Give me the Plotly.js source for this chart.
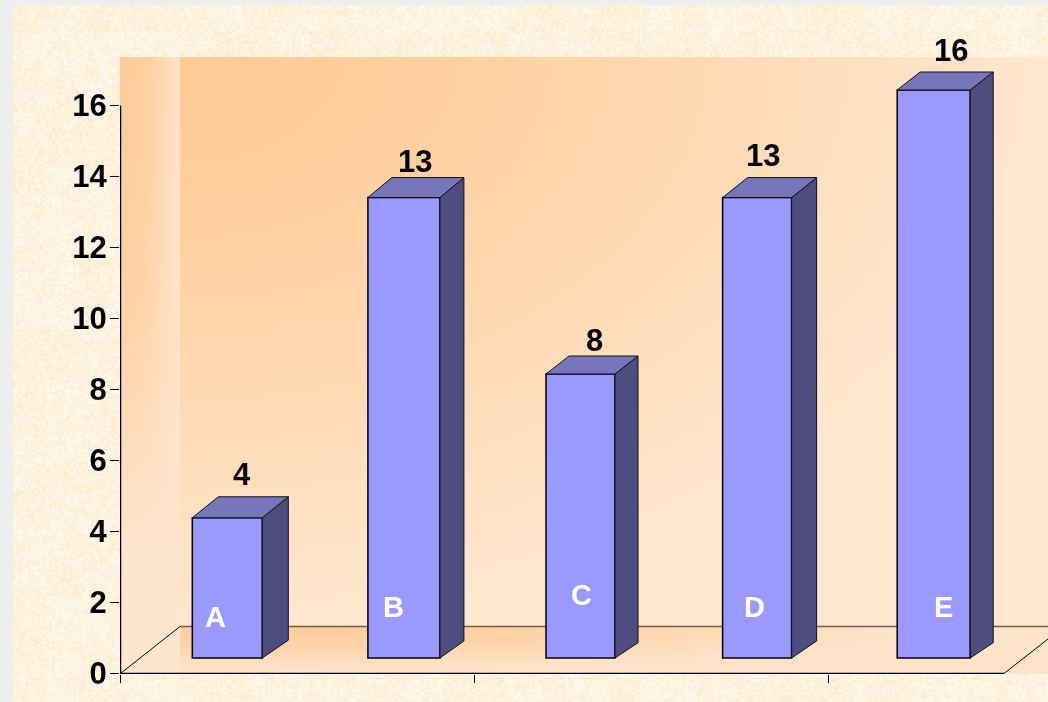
<!DOCTYPE html>
<html>
<head>
<meta charset="utf-8">
<script src="https://cdn.plot.ly/plotly-3.0.1.min.js"></script>
<style>
html,body{margin:0;padding:0;width:1048px;height:702px;overflow:hidden;background:#eeeeee}
.abs{position:absolute}
#tex{left:13px;top:5px}
#wall{left:180px;top:57px;width:868px;height:570px;
  background:radial-gradient(ellipse 860px 560px at 0px 0px,#ffca96 0%,#ffcf9f 30%,#ffdcb9 68%,#ffe6ce 100%)}
#side{left:120px;top:57px;width:60px;height:617px;
  background:linear-gradient(to bottom,rgba(254,229,205,0) 0%,rgba(254,229,205,.25) 40%,rgba(254,229,205,1) 80%),
  linear-gradient(to right,#ffca96 0%,#ffcf9f 45%,#ffe3ca 100%)}
#floor{left:180px;top:626px;width:868px;height:48px;
  background:radial-gradient(ellipse 620px 44px at 120px 0px,#ffca96 0%,#ffd3a9 45%,#fee3ca 100%);background-color:#fee5cd}
#plot{left:0;top:0;width:1048px;height:702px}
</style>
</head>
<body>
<canvas id="tex" class="abs" width="1035" height="697"></canvas>
<div id="wall" class="abs"></div>
<div id="side" class="abs"></div>
<div id="floor" class="abs"></div>
<div id="plot" class="abs"></div>
<script>
// ---- chart data ----
const categories = ['A', 'B', 'C', 'D', 'E'];
const values = [3.95, 12.97, 8, 12.97, 16];
const valueLabels = ['4', '13', '8', '13', '16'];
const yTicks = [0, 2, 4, 6, 8, 10, 12, 14, 16];

// ---- paper texture (decoration only) ----
(function () {
  const c = document.getElementById('tex').getContext('2d');
  const hash = (a, b) => { let h = (a * 374761393 + b * 668265263) | 0; h = Math.imul(h ^ (h >>> 13), 1274126177); return ((h ^ (h >>> 16)) >>> 0) / 4294967296; };
  const cell = 3;
  for (let j = 0; j * cell < 697; j++) for (let i = 0; i * cell < 1035; i++) {
    const blot = hash(Math.floor(i / 11), Math.floor(j / 9)) * .55 + hash(Math.floor(i / 4) + 91, Math.floor(j / 4) + 17) * .45;
    const n = hash(i + 7, j + 3);
    const t = blot * .4 + n * .6;
    const r = 250 + t * 6, g = 236 + t * 14, b = 206 + t * 34;
    c.fillStyle = `rgb(${r | 0},${g | 0},${b | 0})`;
    c.fillRect(i * cell, j * cell, cell, cell);
  }
})();

// ---- scales of the pseudo-3D scene ----
const pxPerCat = 176.6, pxFirst = 227.3, pxLeft = 120.5, pxRight = 1048;
const pxPerUnit = 35.5;
const X = p => (p - pxFirst) / pxPerCat;
const xs = categories.map((_, i) => i);
const baseY = 15.5 / pxPerUnit;
const wallX = X(180), floorBackY = 47 / pxPerUnit;
const barWidthsPx = [70, 72, 69, 69, 73];
const depthXPx = [26, 24, 23, 25, 23];
const depthYPx = [21, 20, 18, 20, 18];
const labelDx = [15, 11, 13.5, 5.5, 17.5];
const labelDy = [43, 36.5, 34, 42.5, 40];
const catDx = [-12, -10, 0.5, -3, 9.5];
const catY = [617, 607, 595, 607, 607];

const traces = [{
  type: 'bar', x: xs, y: values, base: baseY,
  width: barWidthsPx.map(w => w / pxPerCat),
  marker: { color: '#9999ff', line: { color: '#000', width: 1.5 } },
  hoverinfo: 'x+y', showlegend: false
}];
xs.forEach((x, i) => {
  const r = x + barWidthsPx[i] / 2 / pxPerCat, l = x - barWidthsPx[i] / 2 / pxPerCat;
  const dx = depthXPx[i] / pxPerCat, dy = depthYPx[i] / pxPerUnit;
  const top = values[i] + baseY;
  traces.push({
    type: 'scatter', mode: 'lines', fill: 'toself', fillcolor: '#4d4d80', hoverinfo: 'skip', showlegend: false,
    line: { color: '#111', width: 1 },
    x: [r, r + dx, r + dx, r, r], y: [baseY, baseY + dy * .85, top + dy, top, baseY]
  });
  traces.push({
    type: 'scatter', mode: 'lines', fill: 'toself', fillcolor: '#7676bb', hoverinfo: 'skip', showlegend: false,
    line: { color: '#111', width: 1 },
    x: [l, r, r + dx, l + dx, l], y: [top, top, top + dy, top + dy, top]
  });
});

const font = { family: '"Liberation Sans", Arial, sans-serif', size: 31, color: '#000' };
const labelAnn = xs.map((x, i) => ({
  x, y: values[i] + baseY, xref: 'x', yref: 'y', text: '<b>' + valueLabels[i] + '</b>', showarrow: false,
  xanchor: 'center', yanchor: 'middle', xshift: labelDx[i], yshift: labelDy[i], font
}));
const catAnn = xs.map((x, i) => ({
  x, y: (673.5 - catY[i]) / pxPerUnit, xref: 'x', yref: 'y', text: '<b>' + categories[i] + '</b>', showarrow: false,
  xanchor: 'center', yanchor: 'middle', xshift: catDx[i], font: { family: font.family, size: 29, color: '#fff' }
}));

const frontEnd = X(1004);
const line = (x0, y0, x1, y1, color, width) => ({ type: 'line', layer: 'below', xref: 'x', yref: 'y', x0, y0, x1, y1, line: { color, width } });
const rightX = X(pxRight);
const shapes = [
  line(wallX, floorBackY, rightX, floorBackY, '#6e5f50', 1.5),
  line(X(pxLeft), 0, wallX, floorBackY, '#000', 1),
  line(frontEnd, 0, rightX, (pxRight - 1004) / 60 * floorBackY, '#000', 1),
  line(X(pxLeft), 0, frontEnd, 0, '#000', 1.5),
  line(X(pxLeft), 0, X(pxLeft), 16, '#000', 1.5)
];

Plotly.newPlot('plot', traces, {
  width: 1048, height: 702,
  margin: { l: 120, r: 0, t: 57, b: 28, pad: 0 },
  paper_bgcolor: 'rgba(0,0,0,0)', plot_bgcolor: 'rgba(0,0,0,0)',
  showlegend: false, bargap: 0,
  xaxis: {
    range: [X(120), X(pxRight)], showgrid: false, zeroline: false, showline: false,
    tickmode: 'array', tickvals: [X(120.5), X(474.5), X(828.5)], ticktext: ['', '', ''],
    ticks: 'outside', ticklen: 8, tickcolor: '#000', tickwidth: 1
  },
  yaxis: {
    range: [(673.5 - 674) / pxPerUnit, (673.5 - 57) / pxPerUnit], showgrid: false, zeroline: false, showline: false,
    tickmode: 'array', tickvals: yTicks, ticktext: yTicks.map(v => '<b>' + v + '</b>'),
    ticks: 'outside', ticklen: 9, tickcolor: '#000', tickwidth: 1, tickfont: font, ticklabelstandoff: -3
  },
  annotations: labelAnn.concat(catAnn),
  shapes
}, { displayModeBar: false, staticPlot: true });
</script>
</body>
</html>
